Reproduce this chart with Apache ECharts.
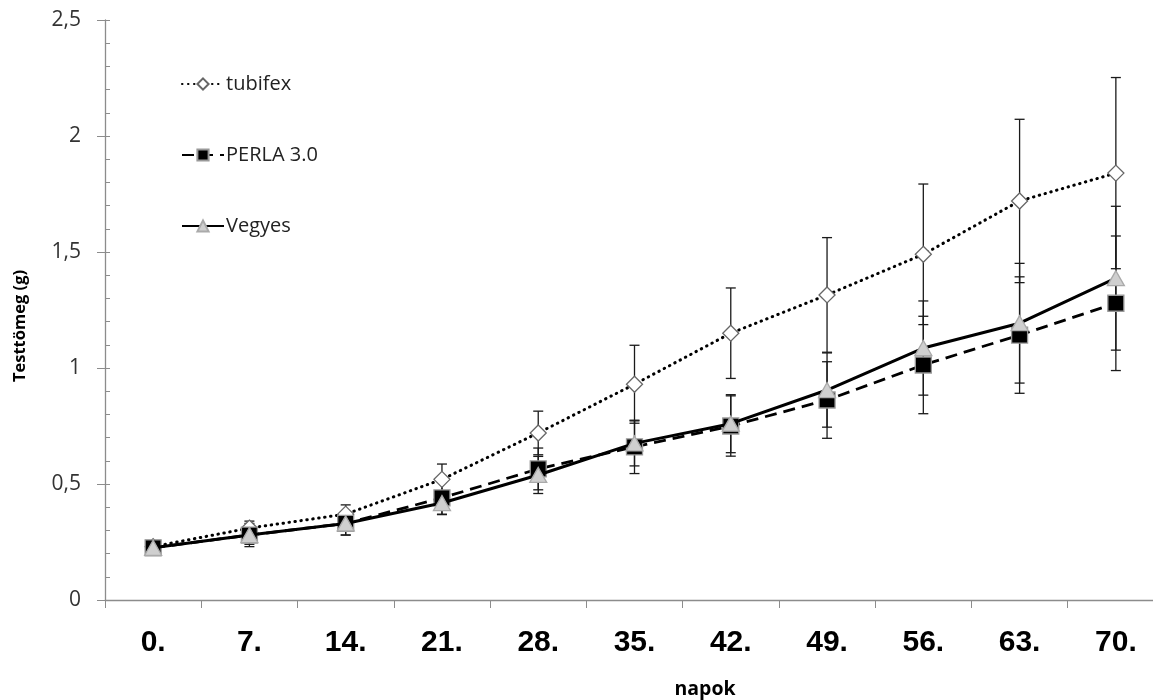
<!DOCTYPE html>
<html><head><meta charset="utf-8">
<script src="https://cdn.jsdelivr.net/npm/echarts@6/dist/echarts.min.js"></script>
<style>html,body{margin:0;padding:0;background:#fff;overflow:hidden}#c{width:1164px;height:700px}</style>
</head><body><div id="c"></div>
<script>
const categories = ["0.","7.","14.","21.","28.","35.","42.","49.","56.","63.","70."];
const tubifex    = [0.23, 0.31, 0.37, 0.52, 0.72, 0.93, 1.15, 1.315, 1.49, 1.72, 1.84];
const tubifexErr = [0.02, 0.03, 0.04, 0.066, 0.094, 0.168, 0.195, 0.247, 0.303, 0.352, 0.412];
const perla      = [0.225, 0.28, 0.33, 0.44, 0.565, 0.66, 0.75, 0.862, 1.013, 1.142, 1.279];
const perlaErr   = [0.03, 0.04, 0.05, 0.07, 0.09, 0.115, 0.13, 0.165, 0.21, 0.251, 0.29];
const vegyes     = [0.225, 0.28, 0.33, 0.418, 0.539, 0.675, 0.76, 0.905, 1.086, 1.193, 1.387];
const vegyesErr  = [0.03, 0.05, 0.05, 0.05, 0.08, 0.097, 0.125, 0.16, 0.203, 0.258, 0.31];
const seriesNames = ["tubifex", "PERLA 3.0", "Vegyes"];
const yTicks = [0, 0.5, 1, 1.5, 2, 2.5];

const chart = echarts.init(document.getElementById('c'));

function errSeries(vals, errs){
  return {
    type: 'custom', z: 1, silent: true,
    data: vals.map((v,i)=>[i, v - errs[i], v + errs[i]]),
    renderItem: function(params, api){
      const lo = api.coord([api.value(0), api.value(1)]);
      const hi = api.coord([api.value(0), api.value(2)]);
      const w = 5;
      const st = {stroke:'#1a1a1a', lineWidth:1.3};
      return {type:'group', children:[
        {type:'line', shape:{x1:lo[0],y1:lo[1],x2:hi[0],y2:hi[1]}, style:st},
        {type:'line', shape:{x1:lo[0]-w,y1:lo[1],x2:lo[0]+w,y2:lo[1]}, style:st},
        {type:'line', shape:{x1:hi[0]-w,y1:hi[1],x2:hi[0]+w,y2:hi[1]}, style:st}
      ]};
    }
  };
}

const fmt = v => String(v).replace('.', ',');

chart.setOption({
  animation: false,
  grid: {left: 105, right: 0, top: 20, bottom: 100},
  legend: {
    orient: 'vertical', left: 176, top: 69, itemGap: 51,
    itemWidth: 42, itemHeight: 14,
    textStyle: {fontFamily: 'Open Sans', fontSize: 20, color: '#222', padding: [0,0,0,-3]},
    data: seriesNames
  },
  xAxis: {
    type: 'category', data: categories, boundaryGap: true,
    axisLine: {lineStyle: {color: '#8c8c8c', width: 1.3}},
    axisTick: {show: true, length: 8, alignWithLabel: false, lineStyle: {color: '#8c8c8c'}},
    axisLabel: {margin: 28, fontFamily: 'Liberation Sans', fontWeight: 'bold', fontSize: 30, color: '#000'}
  },
  yAxis: [{
    type: 'value', min: 0, max: 2.5, interval: 0.5,
    axisLine: {show: true, lineStyle: {color: '#8c8c8c', width: 1.3}},
    axisTick: {show: true, inside: true, length: 5, lineStyle: {color: '#8c8c8c'}},
    minorTick: {show: true, splitNumber: 5, length: 5, lineStyle: {color: '#8c8c8c'}},
    splitLine: {show: false},
    axisLabel: {margin: 24, fontFamily: 'Open Sans', fontSize: 21, color: '#333',
      formatter: v => yTicks.indexOf(v) >= 0 ? fmt(v) : ''}
  }, {
    type: 'value', min: 0, max: 2.5, interval: 0.5, position: 'left',
    axisLine: {show: false},
    axisTick: {show: true, inside: false, length: 8, lineStyle: {color: '#8c8c8c'}},
    splitLine: {show: false}, axisLabel: {show: false}
  }],
  graphic: [
    {type: 'text', x: 20, y: 326, rotation: Math.PI/2,
     style: {text: 'Testtömeg (g)', fontFamily: 'Open Sans', fontWeight: 'bold', fontSize: 16.5, fill: '#000', align: 'center', verticalAlign: 'middle'}},
    {type: 'text', x: 705, y: 689,
     style: {text: 'napok', fontFamily: 'Open Sans', fontWeight: 'bold', fontSize: 19.5, fill: '#000', align: 'center', verticalAlign: 'middle'}}
  ],
  series: [
    errSeries(tubifex, tubifexErr),
    errSeries(perla, perlaErr),
    errSeries(vegyes, vegyesErr),
    {name: seriesNames[0], type: 'line', z: 3, data: tubifex,
     symbol: 'diamond', symbolSize: 16,
     lineStyle: {color: '#000', width: 3, type: [0.5, 5.5], cap: 'round'},
     itemStyle: {color: '#fff', borderColor: '#666', borderWidth: 1.3}},
    {name: seriesNames[1], type: 'line', z: 4, data: perla,
     symbol: 'rect', symbolSize: 16,
     lineStyle: {color: '#000', width: 2.8, type: [12, 7]},
     itemStyle: {color: '#000', borderColor: '#999', borderWidth: 1.3}},
    {name: seriesNames[2], type: 'line', z: 5, data: vegyes,
     symbol: 'triangle', symbolSize: [17, 15],
     lineStyle: {color: '#000', width: 3},
     itemStyle: {color: '#cfcfcf', borderColor: '#aaa', borderWidth: 1.3}}
  ]
});
</script></body></html>
